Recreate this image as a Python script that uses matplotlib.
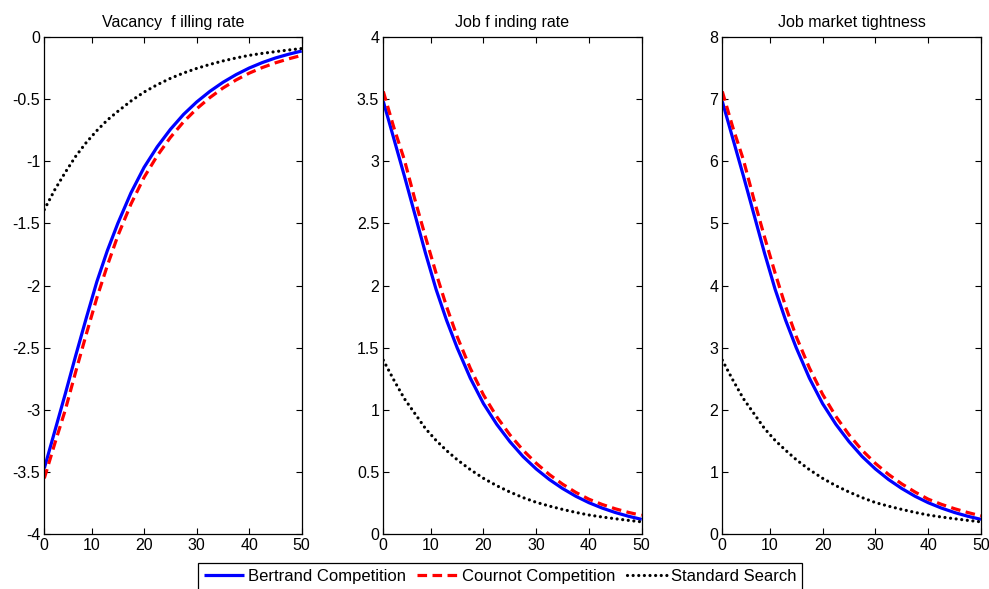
import matplotlib
matplotlib.use("Agg")
import matplotlib.pyplot as plt

plt.rcParams['font.family'] = ['Liberation Sans', 'DejaVu Sans']

t = [1, 3, 5, 7, 9, 11, 13, 15, 17.5, 20, 22.5, 25, 27.5, 30, 32.5, 35, 37.5, 40, 42.5, 45, 47.5, 50]

# Vacancy filling rate
vf_bertrand = [-3.47, -3.17, -2.87, -2.56, -2.26, -1.97, -1.72, -1.50, -1.255, -1.05, -0.885, -0.745, -0.625,
               -0.525, -0.44, -0.367, -0.305, -0.252, -0.208, -0.171, -0.141, -0.115]
vf_cournot = [-3.55, -3.27, -3.00, -2.69, -2.39, -2.10, -1.84, -1.60, -1.345, -1.13, -0.957, -0.81, -0.685,
              -0.58, -0.49, -0.413, -0.348, -0.293, -0.248, -0.21, -0.178, -0.15]
vf_standard = [-1.39, -1.23, -1.09, -0.96, -0.85, -0.755, -0.67, -0.60, -0.517, -0.445, -0.386, -0.335, -0.292,
               -0.255, -0.223, -0.195, -0.171, -0.15, -0.134, -0.12, -0.107, -0.095]

# Job finding rate
jf_bertrand = [3.48, 3.18, 2.88, 2.57, 2.26, 1.97, 1.72, 1.50, 1.255, 1.05, 0.885, 0.745, 0.625,
               0.525, 0.44, 0.368, 0.306, 0.254, 0.211, 0.175, 0.145, 0.12]
jf_cournot = [3.56, 3.27, 3.01, 2.69, 2.39, 2.10, 1.83, 1.59, 1.334, 1.12, 0.946, 0.80, 0.676,
              0.571, 0.48, 0.403, 0.337, 0.282, 0.240, 0.205, 0.176, 0.152]
jf_standard = [1.40, 1.24, 1.09, 0.97, 0.85, 0.755, 0.673, 0.60, 0.52, 0.45, 0.391, 0.34, 0.295,
               0.257, 0.227, 0.20, 0.176, 0.155, 0.139, 0.125, 0.112, 0.10]

# Job market tightness
jt_bertrand = [6.96, 6.36, 5.76, 5.14, 4.52, 3.94, 3.44, 3.00, 2.51, 2.10, 1.77, 1.49, 1.25,
               1.05, 0.88, 0.736, 0.612, 0.508, 0.422, 0.35, 0.29, 0.24]
jt_cournot = [7.12, 6.54, 6.02, 5.38, 4.78, 4.20, 3.66, 3.18, 2.675, 2.25, 1.897, 1.60, 1.35,
              1.14, 0.962, 0.81, 0.68, 0.565, 0.482, 0.411, 0.35, 0.296]
jt_standard = [2.80, 2.48, 2.18, 1.94, 1.70, 1.51, 1.35, 1.20, 1.039, 0.90, 0.782, 0.68, 0.589,
               0.51, 0.452, 0.40, 0.352, 0.31, 0.278, 0.25, 0.224, 0.20]

titles = ["Vacancy  f illing rate", "Job f inding rate", "Job market tightness"]
series_labels = ["Bertrand Competition", "Cournot Competition", "Standard Search"]

xtick_pos = [1, 10, 20, 30, 40, 50]
xtick_labels = ["0", "10", "20", "30", "40", "50"]

y_ticks = [
    [0, -0.5, -1, -1.5, -2, -2.5, -3, -3.5, -4],
    [0, 0.5, 1, 1.5, 2, 2.5, 3, 3.5, 4],
    [0, 1, 2, 3, 4, 5, 6, 7, 8],
]
y_labels = [
    ["0", "-0.5", "-1", "-1.5", "-2", "-2.5", "-3", "-3.5", "-4"],
    ["0", "0.5", "1", "1.5", "2", "2.5", "3", "3.5", "4"],
    ["0", "1", "2", "3", "4", "5", "6", "7", "8"],
]
y_lims = [(-4, 0), (0, 4), (0, 8)]

data = [
    (vf_bertrand, vf_cournot, vf_standard),
    (jf_bertrand, jf_cournot, jf_standard),
    (jt_bertrand, jt_cournot, jt_standard),
]

W, H = 989, 589
fig = plt.figure(figsize=(W / 100, H / 100), dpi=100)

lefts = [44.3, 383.3, 722.3]
rights = [301.7, 641.7, 981.0]
top_px, bot_px = 36.7, 534.3

handles = None
for i in range(3):
    ax = fig.add_axes([lefts[i] / W, 1 - bot_px / H, (rights[i] - lefts[i]) / W, (bot_px - top_px) / H])
    b, c, s = data[i]
    hb, = ax.plot(t, b, color='#0000ff', lw=2.3, solid_capstyle='butt', solid_joinstyle='round',
                  label=series_labels[0])
    hc, = ax.plot(t, c, color='#ff0000', lw=2.3, dashes=(3.0, 1.7), dash_capstyle='butt',
                  label=series_labels[1])
    hs, = ax.plot(t, s, color='black', lw=2.3, dashes=(0.01, 1.75), dash_capstyle='round',
                  label=series_labels[2])
    handles = [hb, hc, hs]
    ax.set_xlim(1, 50)
    ax.set_ylim(*y_lims[i])
    ax.set_xticks(xtick_pos)
    ax.set_xticklabels(xtick_labels)
    ax.set_yticks(y_ticks[i])
    ax.set_yticklabels(y_labels[i])
    ax.tick_params(direction='in', length=4, width=0.8, top=True, right=True,
                   labelsize=11.5, pad=3, colors='black')
    for sp in ax.spines.values():
        sp.set_linewidth(0.9)
        sp.set_color('black')
    ax.set_title(titles[i], fontsize=11.5, pad=7)

leg = fig.legend(handles=handles, labels=series_labels, loc='upper center',
                 bbox_to_anchor=(500 / W, 1 - 563.3 / H), ncol=3, fontsize=12,
                 frameon=True, fancybox=False, edgecolor='black', framealpha=1,
                 handlelength=2.4, handletextpad=0.25, columnspacing=0.7,
                 borderpad=0.35, borderaxespad=0)
leg.get_frame().set_linewidth(0.9)

fig.savefig("out.png", dpi=100)
